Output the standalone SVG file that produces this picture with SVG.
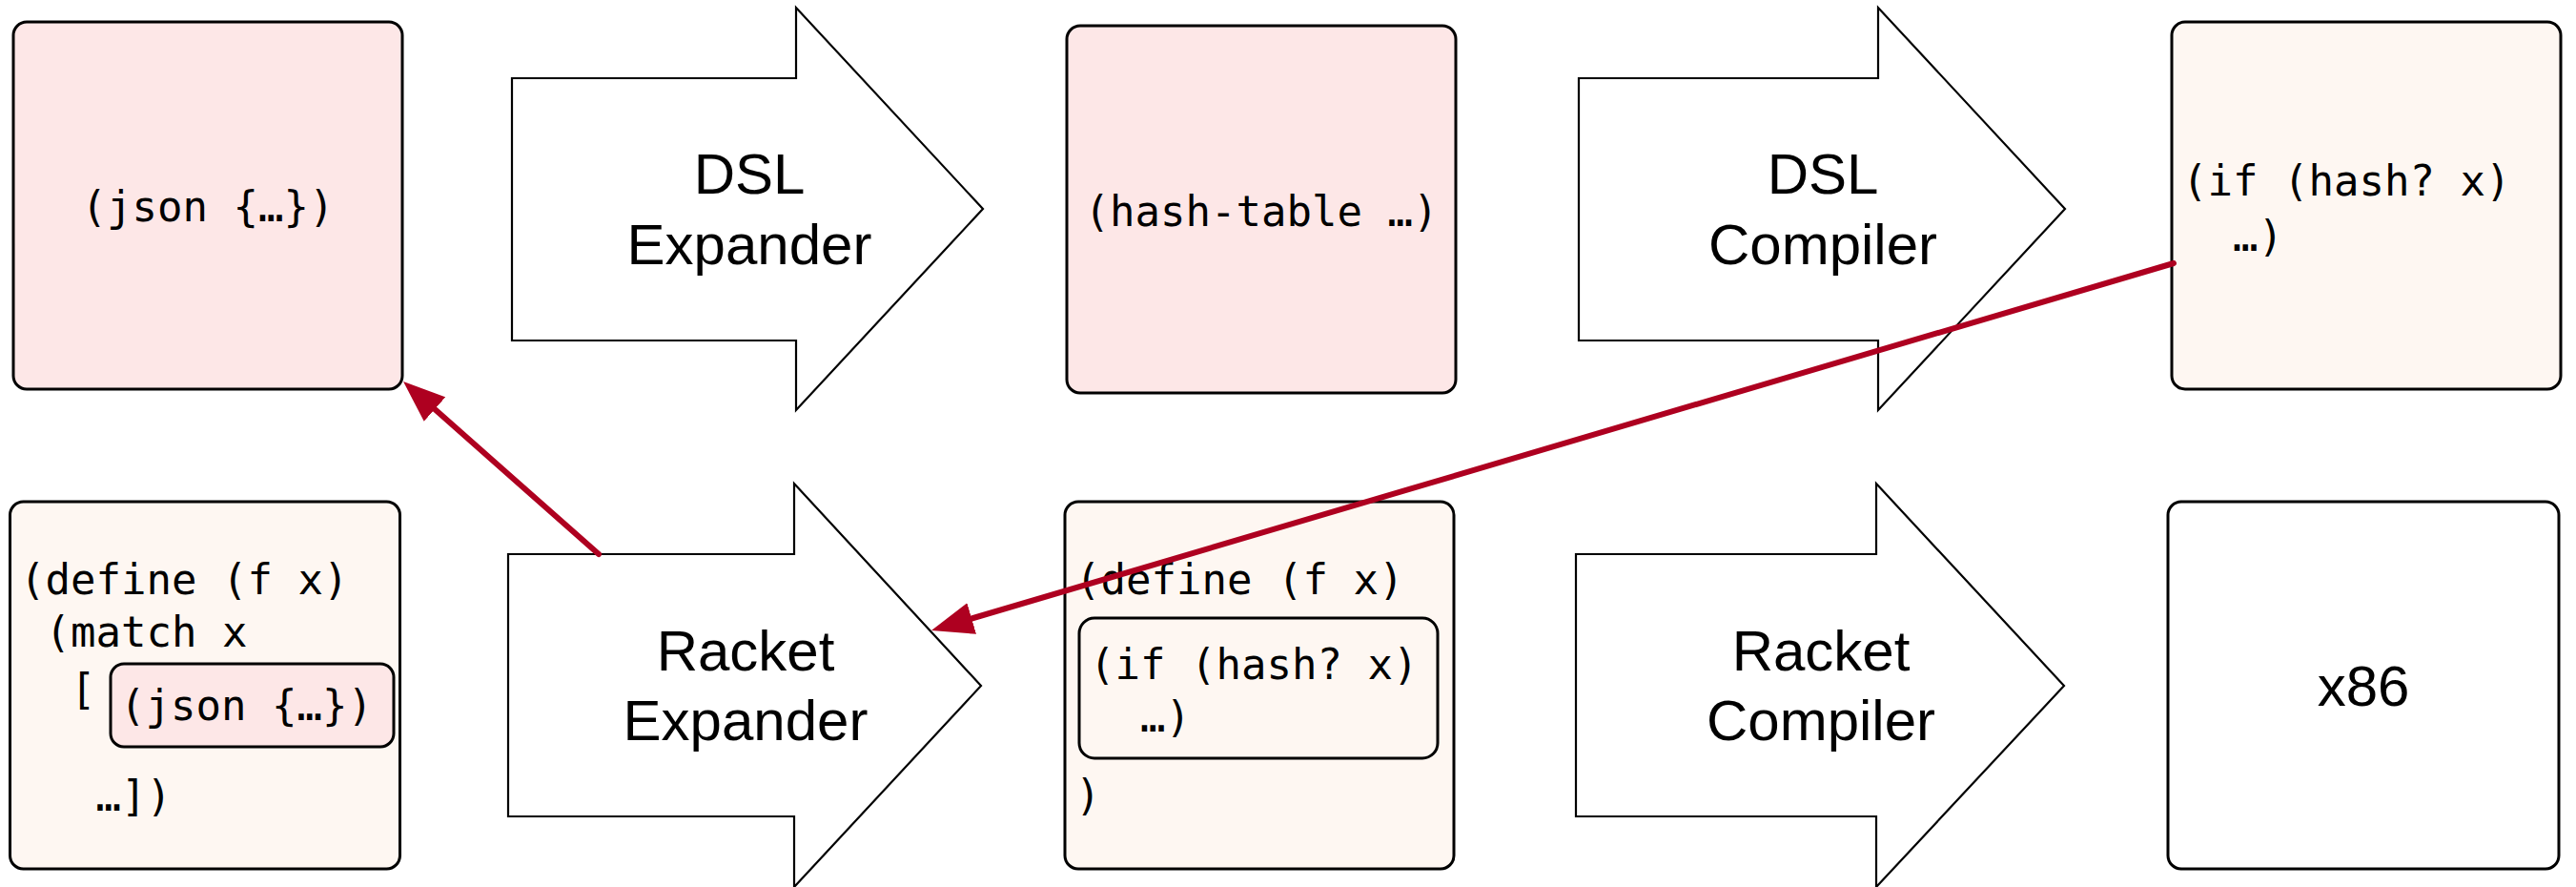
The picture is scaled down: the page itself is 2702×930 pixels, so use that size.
<svg xmlns="http://www.w3.org/2000/svg" width="2702" height="930" viewBox="0 0 2702 930">
<defs>
<style>
.box{stroke:#000;stroke-width:3}
.pink{fill:#fde7e7}
.cream{fill:#fef7f2}
.white{fill:#fff}
.arrow{fill:#fff;stroke:#000;stroke-width:2.2;stroke-linejoin:miter}
.mono{font-family:"DejaVu Sans Mono","Liberation Mono",monospace;font-size:44px;fill:#000}
.sans{font-family:"Liberation Sans",Arial,sans-serif;font-size:60px;fill:#000;text-anchor:middle}
.conn{fill:none;stroke:#ae0020;stroke-width:6;stroke-linecap:round}
</style>
<marker id="ah" markerUnits="userSpaceOnUse" markerWidth="44" markerHeight="34" viewBox="0 0 44 34" refX="0" refY="17" orient="auto">
<path d="M0,0 L44,17 L0,34 z" fill="#ae0020"/>
</marker>
</defs>
<rect width="2702" height="930" fill="#fff"/>

<g id="json-source">
<rect class="box pink" x="14" y="23" width="408" height="385" rx="14"/>
<text class="mono" x="218" y="232" text-anchor="middle">(json {…})</text>
</g>

<g id="dsl-expander">
<polygon class="arrow" points="537,82 835,82 835,8 1031,219 835,430 835,357 537,357"/>
<text class="sans" x="786" y="203">DSL</text>
<text class="sans" x="786" y="277">Expander</text>
</g>

<g id="hash-table">
<rect class="box pink" x="1119" y="27" width="408" height="385" rx="14"/>
<text class="mono" x="1323" y="237" text-anchor="middle">(hash-table …)</text>
</g>

<g id="dsl-compiler">
<polygon class="arrow" points="1656,82 1970,82 1970,8 2166,219 1970,430 1970,357 1656,357"/>
<text class="sans" x="1912" y="203">DSL</text>
<text class="sans" x="1912" y="277">Compiler</text>
</g>

<g id="if-hash">
<rect class="box cream" x="2278" y="23" width="408" height="385" rx="14"/>
<text class="mono" x="2289" y="205" xml:space="preserve">(if (hash? x)</text>
<text class="mono" x="2289" y="263" xml:space="preserve">  …)</text>
</g>

<g id="define-match">
<rect class="box cream" x="10.5" y="526" width="409" height="385" rx="14"/>
<text class="mono" x="21" y="623" xml:space="preserve">(define (f x)</text>
<text class="mono" x="21" y="678" xml:space="preserve"> (match x</text>
<text class="mono" x="74" y="738">[</text>
<rect class="box pink" x="116" y="696" width="297" height="87" rx="14"/>
<text class="mono" x="126" y="755">(json {…})</text>
<text class="mono" x="21" y="850" xml:space="preserve">   …])</text>
</g>

<g id="racket-expander">
<polygon class="arrow" points="533,581 833,581 833,507 1029,719 833,930 833,856 533,856"/>
<text class="sans" x="782" y="703">Racket</text>
<text class="sans" x="782" y="776">Expander</text>
</g>

<g id="define-if">
<rect class="box cream" x="1117" y="526" width="408" height="385" rx="14"/>
<text class="mono" x="1128" y="623" xml:space="preserve">(define (f x)</text>
<rect class="box cream" x="1132" y="648" width="376" height="147" rx="16"/>
<text class="mono" x="1143" y="712" xml:space="preserve">(if (hash? x)</text>
<text class="mono" x="1143" y="767" xml:space="preserve">  …)</text>
<text class="mono" x="1128" y="849">)</text>
</g>

<g id="racket-compiler">
<polygon class="arrow" points="1653,581 1968,581 1968,507 2165,719 1968,930 1968,856 1653,856"/>
<text class="sans" x="1910" y="703">Racket</text>
<text class="sans" x="1910" y="776">Compiler</text>
</g>

<g id="x86">
<rect class="box white" x="2274" y="526" width="410" height="385" rx="14"/>
<text class="sans" x="2479" y="740">x86</text>
</g>

<g id="connectors">
<line class="conn" x1="628" y1="581" x2="456" y2="429.1" marker-end="url(#ah)"/>
<line class="conn" x1="2280" y1="276" x2="1019.2" y2="648.5" marker-end="url(#ah)"/>
</g>
</svg>
